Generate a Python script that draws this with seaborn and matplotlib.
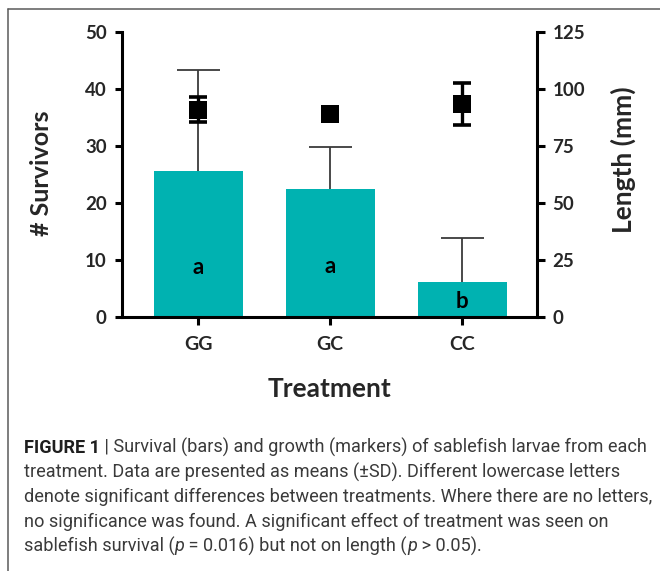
import matplotlib
matplotlib.use("Agg")
import matplotlib.pyplot as plt
from matplotlib.lines import Line2D
from matplotlib.font_manager import FontProperties, fontManager
import numpy as np
import pandas as pd
import seaborn as sns

# ---- data -------------------------------------------------------------
treatments = ["GG", "GC", "CC"]
survivors_mean = [25.6, 22.5, 6.2]
survivors_sd = [17.7, 7.3, 7.7]
length_mean = [91.0, 89.0, 93.4]
length_sd = [5.3, 0.0, 9.2]
sig_letters = ["a", "a", "b"]

survivor_ticks = [0, 10, 20, 30, 40, 50]
length_ticks = [0, 25, 50, 75, 100, 125]

caption_lines = [
    [("FIGURE 1", "bold", "normal"), (" | Survival (bars) and growth (markers) of sablefish larvae from each", "normal", "normal")],
    [("treatment. Data are presented as means (\u00b1SD). Different lowercase letters", "normal", "normal")],
    [("denote significant differences between treatments. Where there are no letters,", "normal", "normal")],
    [("no significance was found. A significant effect of treatment was seen on", "normal", "normal")],
    [("sablefish survival (", "normal", "normal"), ("p", "normal", "italic"),
     (" = 0.016) but not on length (", "normal", "normal"), ("p", "normal", "italic"),
     (" > 0.05).", "normal", "normal")],
]

# ---- style ------------------------------------------------------------
sns.set_theme(style="white")
plt.rcParams["font.family"] = ["Lato", "DejaVu Sans"]
plt.rcParams["font.weight"] = "bold"

TEAL = "#00B2B1"
W, H = 660, 571
fig = plt.figure(figsize=(W / 100, H / 100), dpi=100)
fig.patch.set_facecolor("white")

ax = fig.add_axes([122 / W, 1 - 317 / H, (537 - 122) / W, (317 - 32) / H])

df = pd.DataFrame({"Treatment": treatments, "Survivors": survivors_mean})
sns.barplot(data=df, x="Treatment", y="Survivors", color=TEAL, saturation=1,
            width=0.67, errorbar=None, linewidth=0, ax=ax, zorder=2)

# upper SD whiskers on the bars (stem plus a cap at the top only)
xpos = np.arange(len(treatments))
tops = np.array(survivors_mean) + np.array(survivors_sd)
ax.vlines(xpos, survivors_mean, tops, color="#3a3a3a", lw=1.3, zorder=3)
ax.hlines(tops, xpos - 0.163, xpos + 0.163, color="#3a3a3a", lw=1.3, zorder=3)

# significance letters inside the bars
for x, lab, yv in zip(xpos, sig_letters, [8.6, 8.8, 2.7]):
    ax.text(x, yv, lab, ha="center", va="center", fontsize=16,
            fontweight="bold", color="black", zorder=4)

ax.set_xlim(-0.578, 2.566)
ax.set_ylim(0, 50)
ax.set_yticks(survivor_ticks)
ax.set_xlabel("")
ax.set_ylabel("")
ax.set_facecolor("none")
for s in ["top", "right"]:
    ax.spines[s].set_visible(False)
for s in ["left", "bottom"]:
    ax.spines[s].set_linewidth(2.2)
    ax.spines[s].set_color("black")
ax.tick_params(axis="y", direction="out", length=5, width=2.2, pad=6,
               labelsize=13.5, color="black", left=True)
ax.tick_params(axis="x", direction="out", length=5.5, width=2.2, pad=8,
               labelsize=14, color="black", bottom=True)
for lbl in ax.get_xticklabels() + ax.get_yticklabels():
    lbl.set_fontweight("bold")

# ---- length on the secondary axis ------------------------------------
ax2 = ax.twinx()
ax2.set_ylim(0, 125)
ax2.set_yticks(length_ticks)
sd = np.array(length_sd)
has_sd = sd > 0
ax2.errorbar(xpos[has_sd], np.array(length_mean)[has_sd], yerr=sd[has_sd],
             fmt="none", ecolor="black", elinewidth=2.4, capsize=6.8,
             capthick=2.6, zorder=5)
sns.scatterplot(x=xpos, y=length_mean, marker="s", s=12.6 ** 2, color="black",
                edgecolor="black", linewidth=0, ax=ax2, zorder=6, legend=False)
for s in ["top", "left", "bottom"]:
    ax2.spines[s].set_visible(False)
ax2.spines["right"].set_linewidth(2.2)
ax2.spines["right"].set_color("black")
ax2.tick_params(axis="y", direction="out", length=5.5, width=2.2, pad=5.5,
                labelsize=13.5, color="black", right=True)
for lbl in ax2.get_yticklabels():
    lbl.set_fontweight("bold")
ax2.set_xlim(ax.get_xlim())

# ---- axis titles -----------------------------------------------------
fig.text(42 / W, 1 - 173 / H, "# Survivors", rotation=90, ha="center",
         va="center", fontsize=18, fontweight="bold")
fig.text(623 / W, 1 - 160 / H, "Length (mm)", rotation=90, ha="center",
         va="center", fontsize=19, fontweight="bold")
fig.text(330 / W, 1 - 389 / H, "Treatment", ha="center", va="center",
         fontsize=19, fontweight="bold")

# ---- panel frame -----------------------------------------------------
fig.add_artist(Line2D([8 / W, 1.0], [1 - 9 / H, 1 - 9 / H], color="#5a5a5a",
                      lw=1.1, transform=fig.transFigure))
fig.add_artist(Line2D([8 / W, 8 / W], [1 - 9 / H, 0.0], color="#5a5a5a",
                      lw=1.1, transform=fig.transFigure))

# ---- caption ---------------------------------------------------------
names = {f.name for f in fontManager.ttflist}
cap_family = "Roboto" if "Roboto" in names else "Liberation Sans"
renderer = fig.canvas.get_renderer()


def run_width(text, weight, style, size):
    fp = FontProperties(family=cap_family, weight=weight, style=style, size=size)
    w1, _, _ = renderer.get_text_width_height_descent(text + "|", fp, ismath=False)
    w2, _, _ = renderer.get_text_width_height_descent("|", fp, ismath=False)
    return w1 - w2


# fit the first caption line to the text block width
base = 12.0
line1 = sum(run_width(t, w, st, base) for t, w, st in caption_lines[0])
cap_size = base * 621 / line1

x0, y0, dy = 24, 453, 24.6
for i, runs in enumerate(caption_lines):
    x = x0
    y = y0 + i * dy
    for text, weight, style in runs:
        col = "#1e1e1e" if weight == "bold" else "#3a3a3a"
        fig.text(x / W, 1 - y / H, text, ha="left", va="baseline",
                 fontsize=cap_size, family=cap_family, fontweight=weight,
                 fontstyle=style, color=col)
        x += run_width(text, weight, style, cap_size)

fig.savefig("out.png", dpi=100, facecolor="white")
